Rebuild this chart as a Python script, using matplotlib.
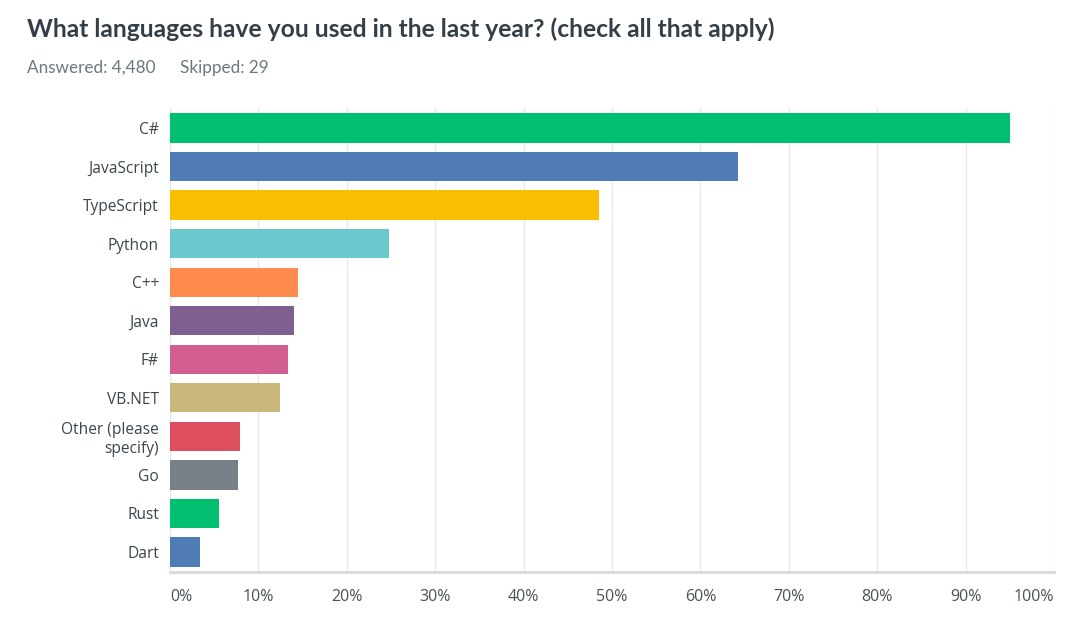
import matplotlib
matplotlib.use("Agg")
import matplotlib.pyplot as plt
from matplotlib.ticker import FixedLocator

categories = ["C#", "JavaScript", "TypeScript", "Python", "C++", "Java", "F#",
              "VB.NET", "Other (please\nspecify)", "Go", "Rust", "Dart"]
values = [95.0, 64.3, 48.5, 24.8, 14.5, 14.0, 13.3, 12.4, 7.9, 7.7, 5.5, 3.4]
colors = ["#00bf6f", "#507cb6", "#f9be00", "#6bc8cd", "#ff8b4f", "#7f5f90",
          "#d25f90", "#c9b77c", "#dd4f5f", "#768086", "#00bf6f", "#507cb6"]
tick_values = [0, 10, 20, 30, 40, 50, 60, 70, 80, 90, 100]
tick_labels = [f"{v}%" for v in tick_values]

title = "What languages have you used in the last year? (check all that apply)"
subtitle_answered = "Answered: 4,480"
subtitle_skipped = "Skipped: 29"

fig = plt.figure(figsize=(10.8, 6.26), dpi=100)
ax = fig.add_axes([170/1080, 1-572/626, (1054-170)/1080, (572-108)/626])

y = list(range(len(categories)))
ax.barh(y, values, height=0.76, color=colors, zorder=3)
ax.set_xlim(0, 100)
ax.set_ylim(len(categories) - 0.48, -0.52)

ax.xaxis.set_major_locator(FixedLocator(tick_values))
ax.set_xticklabels(tick_labels)
ax.set_yticks(y)
ax.set_yticklabels(categories, fontsize=11.2, color="#3b454d", family="Open Sans",
                   linespacing=1.2)
ax.grid(axis="x", color="#e9e9e9", linewidth=1, zorder=0)
ax.tick_params(axis="both", length=0)
ax.tick_params(axis="y", pad=8)
ax.tick_params(axis="x", pad=12)
for lbl in ax.get_xticklabels():
    lbl.set_fontsize(11.5)
    lbl.set_color("#4a5257")
    lbl.set_family("Open Sans")
xl = ax.get_xticklabels()
xl[0].set_horizontalalignment("left")
xl[-1].set_horizontalalignment("right")

for s in ["top", "right", "left"]:
    ax.spines[s].set_visible(False)
ax.spines["bottom"].set_color("#d9d9d9")
ax.spines["bottom"].set_linewidth(2)

fig.text(27/1080, 1-29/626, title, fontsize=17.7, fontweight="bold",
         color="#333e48", family="Lato", va="center", ha="left")
fig.text(27/1080, 1-68/626, subtitle_answered, fontsize=12.3,
         color="#6b787f", family="Lato", va="center", ha="left")
fig.text(180/1080, 1-68/626, subtitle_skipped, fontsize=12.3,
         color="#6b787f", family="Lato", va="center", ha="left")

fig.savefig("out.png", dpi=100, facecolor="white")
